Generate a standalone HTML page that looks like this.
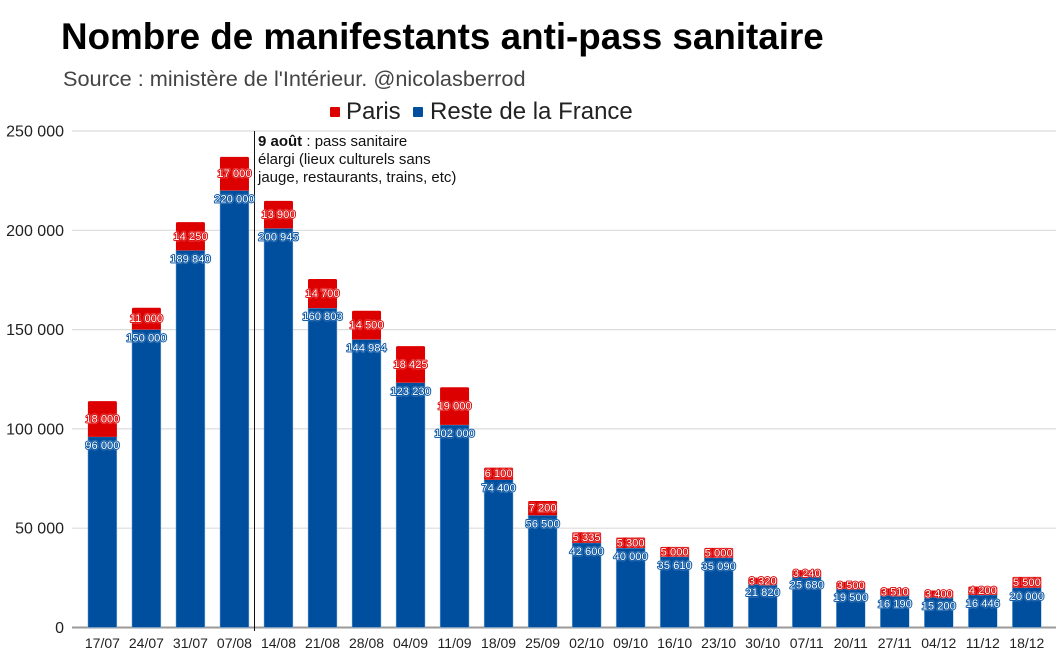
<!DOCTYPE html>
<html lang="fr">
<head>
<meta charset="utf-8">
<title>Nombre de manifestants anti-pass sanitaire</title>
<style>
html,body{margin:0;padding:0;background:#fff;}
#chart{display:block;width:1056px;height:667px;font-family:"Liberation Sans",Arial,sans-serif;filter:blur(.3px);}
.val{font-size:11.2px;fill:#fff;stroke-width:1.8px;paint-order:stroke;stroke-linejoin:round;text-anchor:middle;}
.val-red{stroke:#dd0000;filter:drop-shadow(0 0 .4px #fff);}
.val-blue{stroke:#004f9f;filter:drop-shadow(0 0 .5px #cfe4fa);}
</style>
</head>
<body>
<svg id="chart" width="1056" height="667" viewBox="0 0 1056 667">
  <text x="61" y="49" font-size="36.8" font-weight="700" fill="#000">Nombre de manifestants anti-pass sanitaire</text>
  <text x="63" y="86" font-size="21.7" fill="#444">Source : ministère de l'Intérieur. @nicolasberrod</text>
  <g>
    <rect x="330" y="107" width="10" height="10" rx="1" fill="#dd0000"></rect>
    <text x="346" y="119" font-size="24" fill="#222">Paris</text>
    <rect x="413" y="107" width="10" height="10" rx="1" fill="#004f9f"></rect>
    <text x="430" y="119" font-size="24" fill="#222">Reste de la France</text>
  </g>
  <g id="grid"></g>
  <g id="bars"></g>
  <g id="xlabels"></g>
  <line x1="254.5" x2="254.5" y1="131" y2="631" stroke="#111" stroke-width="1"></line>
  <text font-size="15" fill="#111">
    <tspan x="258" y="146"><tspan font-weight="700">9 août</tspan> : pass sanitaire</tspan>
    <tspan x="258" y="164">élargi (lieux culturels sans</tspan>
    <tspan x="258" y="182">jauge, restaurants, trains, etc)</tspan>
  </text>
  <g id="vals"></g>
</svg>
<script>
const categories = ["17/07","24/07","31/07","07/08","14/08","21/08","28/08","04/09","11/09","18/09","25/09","02/10","09/10","16/10","23/10","30/10","07/11","20/11","27/11","04/12","11/12","18/12"];
const resteValues = [96000,150000,189840,220000,200945,160803,144984,123230,102000,74400,56500,42600,40000,35610,35090,21820,25680,19500,16190,15200,16446,20000];
const parisValues = [18000,11000,14250,17000,13900,14700,14500,18425,19000,6100,7200,5335,5300,5000,5000,3320,3240,3500,3510,3400,4200,5500];
const yTicks = [0,50000,100000,150000,200000,250000];

const NS = "http://www.w3.org/2000/svg";
const plotLeft = 72, plotRight = 1056, yBase = 627.5, yTop = 131;
const firstCenter = 102.4, step = 44.02, barW = 29;
const yMax = 250000;
function yScale(v){ return yBase - (v / yMax) * (yBase - yTop); }
function xScale(i){ return firstCenter + i * step; }
function fmt(v){ return String(v).replace(/\B(?=(\d{3})+$)/g, " "); }
function mk(tag, attrs, parent){
  const el = document.createElementNS(NS, tag);
  for (const k in attrs) el.setAttribute(k, attrs[k]);
  parent.appendChild(el);
  return el;
}
const grid = document.getElementById("grid");
const bars = document.getElementById("bars");
const xl = document.getElementById("xlabels");
const vals = document.getElementById("vals");

yTicks.forEach(function(t){
  const y = yScale(t);
  const line = mk("line", {x1: plotLeft, x2: plotRight, y1: y, y2: y, stroke: t === 0 ? "#9a9a9a" : "#dcdcdc", "stroke-width": t === 0 ? 2 : 1.2}, grid);
  
  
  const label = mk("text", {x: 64, y: y + 5.5, "text-anchor": "end", "font-size": 16, fill: "#222"}, grid);
  
  
  label.textContent = fmt(t);
});

categories.forEach(function(c, i){
  const cx = xScale(i), x = cx - barW / 2;
  const r = resteValues[i], p = parisValues[i];
  const yR = yScale(r), yP = yScale(r + p);
  const blue = mk("rect", {x: x, y: yR, width: barW, height: yBase - yR, fill: "#004f9f", stroke: "#9fc3e6", "stroke-width": 0.5}, bars);
  
  
  const red = mk("path", {d: "M" + x + " " + yR + "V" + (yP + 1.5) + "q0 -1.5 1.5 -1.5H" + (x + barW - 1.5) + "q1.5 0 1.5 1.5V" + yR + "Z", fill: "#dd0000"}, bars);
  
  
  const tick = mk("text", {x: cx, y: 648, "text-anchor": "middle", "font-size": 14, fill: "#222"}, xl);
  
  
  tick.textContent = c;
  const vr = mk("text", {x: cx, y: (yR + yP) / 2 + 3.5, class: "val val-red"}, vals);
  
  
  vr.textContent = fmt(p);
  const vb = mk("text", {x: cx, y: yR + 12, class: "val val-blue"}, vals);
  
  
  vb.textContent = fmt(r);
});
</script>
</body>
</html>
